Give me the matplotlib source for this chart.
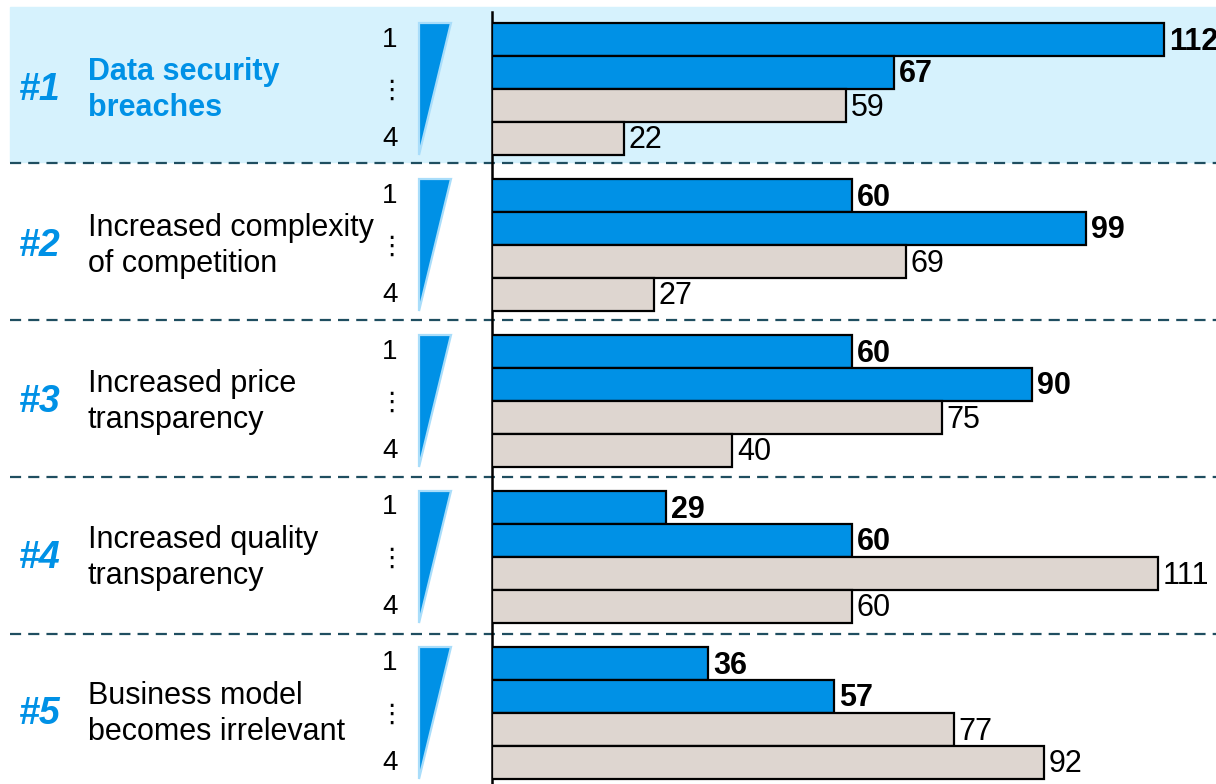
import matplotlib
matplotlib.use("Agg")
import matplotlib.pyplot as plt
from matplotlib.patches import Polygon, Rectangle

plt.rcParams['font.family'] = ['Liberation Sans', 'DejaVu Sans']

ranks = ["#1", "#2", "#3", "#4", "#5"]
risks = ["Data security\nbreaches",
         "Increased complexity\nof competition",
         "Increased price\ntransparency",
         "Increased quality\ntransparency",
         "Business model\nbecomes irrelevant"]
# answers ranked 1 .. 4 for each risk
rank1 = [112, 60, 60, 29, 36]
rank2 = [67, 99, 90, 60, 57]
rank3 = [59, 69, 75, 111, 77]
rank4 = [22, 27, 40, 60, 92]

BLUE = "#0091E6"
BEIGE = "#DED6D0"
BAND = "#D6F2FD"
DASH = "#1F4E60"

W, H = 1216, 784
fig = plt.figure(figsize=(W / 100, H / 100), dpi=100)

# background layer in pixel coords
bg = fig.add_axes([0, 0, 1, 1])
bg.set_xlim(0, W)
bg.set_ylim(H, 0)
bg.axis("off")

pitch = 156
bar_h = 33
first_top = 23

bg.add_patch(Rectangle((10, 7), W - 10, 155, color=BAND, zorder=0))
for k in range(4):
    y = 163 + 157 * k
    bg.plot([10, W], [y, y], color=DASH, lw=1.6, ls=(0, (5, 3.2)), zorder=1)

for g in range(5):
    top = first_top + pitch * g
    mid = top + 2 * bar_h
    hl = g == 0
    bg.text(40, mid + 1, ranks[g], color=BLUE, fontsize=27, fontweight="bold",
            fontstyle="italic", ha="center", va="center")
    bg.text(88, mid + 1, risks[g], color=BLUE if hl else "black", fontsize=22,
            fontweight="bold" if hl else "normal", ha="left", va="center",
            linespacing=1.22)
    bg.text(390, top + bar_h / 2, "1", fontsize=20, ha="center", va="center")
    bg.text(390, top + 3.5 * bar_h, "4", fontsize=20, ha="center", va="center")
    bg.text(391, mid + 2, "\u22ee", fontsize=19, ha="center", va="center",
            family=['DejaVu Sans'])
    bg.add_patch(Polygon([(419, top), (451, top), (419, top + 4 * bar_h)],
                         closed=True, facecolor=BLUE, edgecolor="#A9DDFA",
                         lw=1.6, zorder=2))

# bar layer
x0 = 492
ax = fig.add_axes([x0 / W, 0, (W - x0) / W, (H - 12) / H])
ax.patch.set_alpha(0)
ax.set_xlim(0, (W - x0) / 6)
ax.set_ylim(H, 12)
for s in ["top", "right", "bottom"]:
    ax.spines[s].set_visible(False)
ax.spines["left"].set_linewidth(1.8)
ax.set_xticks([])
ax.set_yticks([])

series = [rank1, rank2, rank3, rank4]
for j, vals in enumerate(series):
    ys = [first_top + pitch * g + bar_h * j + bar_h / 2 for g in range(5)]
    col = BLUE if j < 2 else BEIGE
    ax.barh(ys, vals, height=bar_h, color=col, edgecolor="black", lw=1.6, zorder=3)
    for y, v in zip(ys, vals):
        ax.text(v + 0.8, y + 2, str(v), fontsize=22,
                fontweight="bold" if j < 2 else "normal",
                ha="left", va="center", clip_on=False)

fig.savefig("out.png", dpi=100)
